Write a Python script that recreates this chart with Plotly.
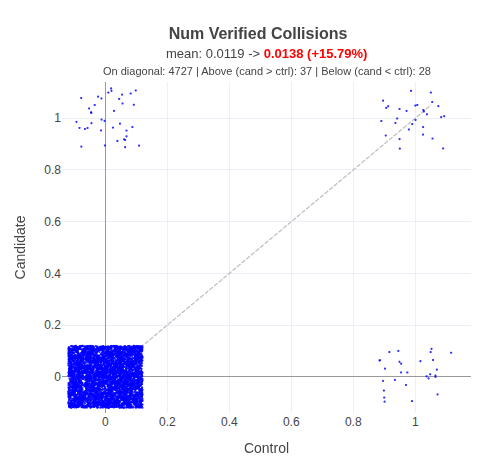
import math
import plotly.graph_objects as go

# cell values (control, candidate) and how many runs fall in each
control_vals = [0, 0, 1, 1]
candidate_vals = [0, 1, 0, 1]
counts = [4698, 37, 28, 29]

mean_ctrl = 0.0119
mean_cand = 0.0138
pct_change = 15.79
on_diag, above, below = 4727, 37, 28


def spread(k, seed):
    # deterministic hash in [0, 1) used only to spread overlapping points
    v = math.sin(k * 12.9898 + seed * 78.233) * 43758.5453
    return v - math.floor(v)


xs, ys = [], []
k = 0
for cx, cy, n in zip(control_vals, candidate_vals, counts):
    for i in range(n):
        k += 1
        xs.append(cx + spread(k, 1) * 0.24 - 0.12)
        ys.append(cy + spread(k, 2) * 0.24 - 0.12)

fig = go.Figure()
fig.add_trace(go.Scattergl(
    x=[0, 1.05], y=[0, 1.05], mode="lines",
    line=dict(color="rgba(160,160,160,0.7)", dash="dash", width=1.2),
    hoverinfo="skip"
))
fig.add_trace(go.Scattergl(
    x=xs, y=ys, mode="markers",
    marker=dict(color="blue", size=2.5, opacity=0.8)
))

fig.update_layout(
    template="plotly_white",
    width=500, height=458,
    showlegend=False,
    font=dict(family="Liberation Sans, Arial", color="#444"),
    title=dict(text="<b>Num Verified Collisions</b>", x=0.5, xanchor="center",
               y=0.945, yanchor="middle", font=dict(size=16)),
    margin=dict(l=49, r=37, t=74, b=48),
    xaxis=dict(title="Control", range=[-0.14, 1.18], dtick=0.2,
               zeroline=True, zerolinecolor="#999", zerolinewidth=1),
    yaxis=dict(title="Candidate", range=[-0.14, 1.14], dtick=0.2,
               zeroline=True, zerolinecolor="#999", zerolinewidth=1),
    annotations=[
        dict(text=(f"mean: {mean_ctrl:.4f} -> "
                   f"<span style='color:red'><b>{mean_cand:.4f} (+{pct_change:.2f}%)</b></span>"),
             xref="paper", yref="paper", x=0.5, y=1.0, yshift=29,
             showarrow=False, font=dict(size=13), xanchor="center", yanchor="middle"),
        dict(text=(f"On diagonal: {on_diag} | Above (cand > ctrl): {above} | "
                   f"Below (cand < ctrl): {below}"),
             xref="paper", yref="paper", x=0.5, y=1.0, yshift=11,
             showarrow=False, font=dict(size=11), xanchor="center", yanchor="middle"),
    ],
)

fig.write_html("out.html")
